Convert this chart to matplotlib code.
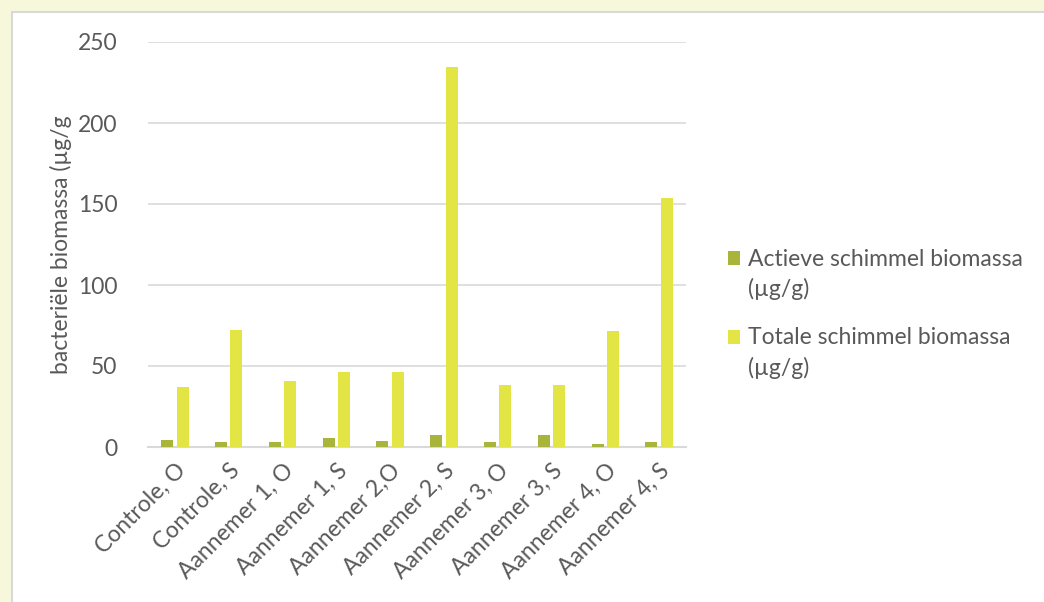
import numpy as np
import matplotlib
matplotlib.use('Agg')
import matplotlib.pyplot as plt
from matplotlib.patches import Rectangle

plt.rcParams['font.family'] = ['Lato', 'DejaVu Sans']

# data
categories = ['Controle, O', 'Controle, S', 'Aannemer 1, O', 'Aannemer 1, S', 'Aannemer 2,O',
              'Aannemer 2, S', 'Aannemer 3, O', 'Aannemer 3, S', 'Aannemer 4, O', 'Aannemer 4, S']
actief = [4.3, 3.1, 3.1, 5.8, 4.0, 7.4, 3.1, 7.4, 1.8, 3.1]
totaal = [37, 72, 41, 46, 46.5, 234.5, 38, 38, 71.5, 154]
series_names = ['Actieve schimmel biomassa\n(µg/g)', 'Totale schimmel biomassa\n(µg/g)']
yticks = [0, 50, 100, 150, 200, 250]

green = '#a9b53a'
yellow = '#e3e544'
txt = '#595959'
fs = 16.5

fig = plt.figure(figsize=(10.44, 6.02), dpi=100)
fig.patch.set_facecolor('#f7f7dc')
# white panel with thin grey border
fig.patches.append(Rectangle((12 / 1044, -0.01), 1.1, 1 - 12 / 602 + 0.01, transform=fig.transFigure,
                             facecolor='white', edgecolor='#d9d9d9', linewidth=1.5, zorder=-5))

ax = fig.add_axes([148 / 1044, 1 - 447 / 602, (686 - 148) / 1044, (447 - 42) / 602])
ax.set_facecolor('none')

x = np.arange(len(categories))
w = 0.22
off = 0.143
ax.bar(x - off, actief, w, color=green, label=series_names[0], zorder=3)
ax.bar(x + off, totaal, w, color=yellow, label=series_names[1], zorder=3)

ax.set_xlim(-0.5, len(categories) - 0.5)
ax.set_ylim(0, 250)
ax.set_yticks(yticks)
ax.yaxis.grid(True, color='#d9d9d9', linewidth=1.2, zorder=0)
ax.set_axisbelow(True)
for s in ['top', 'right', 'left']:
    ax.spines[s].set_visible(False)
ax.spines['bottom'].set_color('#d9d9d9')
ax.spines['bottom'].set_linewidth(1.5)
ax.tick_params(axis='both', length=0, labelsize=fs, labelcolor=txt)
ax.tick_params(axis='y', pad=22)
ax.set_xticks(x)
ax.set_xticklabels(categories, rotation=45, ha='right', rotation_mode='anchor')
ax.tick_params(axis='x', pad=9)

ax.set_ylabel('bacteriële biomassa (µg/g', fontsize=fs, color=txt)
ax.yaxis.set_label_coords(-0.141, 0.5)

leg = fig.legend(loc='upper left', bbox_to_anchor=(707 / 1044, 1 - 228 / 602), frameon=False,
                 fontsize=fs, labelcolor=txt, handlelength=0.55, handleheight=0.55, handletextpad=0.35,
                 labelspacing=1.2)
for t in leg.get_texts():
    t.set_linespacing(1.45)
# put the square next to the first text line, like the original
for h in leg.legend_handles:
    h.set_y(h.get_y() + 12)

fig.savefig('out.png', dpi=100, facecolor=fig.get_facecolor())
